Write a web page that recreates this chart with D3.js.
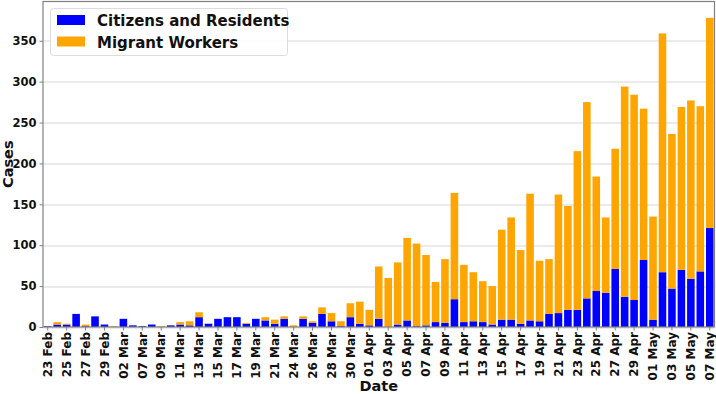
<!DOCTYPE html>
<html>
<head>
<meta charset="utf-8">
<script src="https://cdn.jsdelivr.net/npm/d3@7"></script>
<style>
  body { margin: 0; background: #fff; }
  svg { font-family: "DejaVu Sans", sans-serif; font-weight: bold; }
</style>
</head>
<body>
<svg width="716" height="394"></svg>
<script>
const dates = [
  '23 Feb', '24 Feb', '25 Feb', '26 Feb', '27 Feb', '28 Feb', '29 Feb', '01 Mar', '02 Mar', '05 Mar',
  '07 Mar', '08 Mar', '09 Mar', '10 Mar', '11 Mar', '12 Mar', '13 Mar', '14 Mar', '15 Mar', '16 Mar',
  '17 Mar', '18 Mar', '19 Mar', '20 Mar', '21 Mar', '22 Mar', '24 Mar', '25 Mar', '26 Mar', '27 Mar',
  '28 Mar', '29 Mar', '30 Mar', '31 Mar', '01 Apr', '02 Apr', '03 Apr', '04 Apr', '05 Apr', '06 Apr',
  '07 Apr', '08 Apr', '09 Apr', '10 Apr', '11 Apr', '12 Apr', '13 Apr', '14 Apr', '15 Apr', '16 Apr',
  '17 Apr', '18 Apr', '19 Apr', '20 Apr', '21 Apr', '22 Apr', '23 Apr', '24 Apr', '25 Apr', '26 Apr',
  '27 Apr', '28 Apr', '29 Apr', '30 Apr', '01 May', '02 May', '03 May', '04 May', '05 May', '06 May',
  '07 May'
];

// Citizens and Residents
const residents = [
  1, 3, 3, 16, 1, 13, 3, 0, 10, 2,
  1, 3, 0, 2, 3, 2, 12, 4, 10, 12,
  12, 4, 10, 8, 4, 10, 0, 10, 5, 16,
  7, 1, 12, 4, 2, 10, 0, 3, 8, 1,
  2, 6, 5, 34, 6, 7, 6, 3, 9, 9,
  4, 8, 7, 16, 17, 21, 21, 35, 44, 42,
  71, 37, 33, 82, 9, 67, 47, 70, 59, 68,
  121
];

// Migrant Workers
const migrants = [
  0, 3, 1, 0, 2, 0, 0, 1, 0, 0,
  0, 0, 1, 0, 3, 5, 6, 0, 0, 0,
  0, 1, 0, 4, 5, 3, 2, 3, 2, 8,
  10, 6, 17, 27, 19, 64, 60, 76, 101, 101,
  86, 49, 78, 130, 70, 60, 50, 47, 110, 125,
  90, 155, 74, 67, 145, 127, 194, 240, 140, 92,
  147, 257, 251, 185, 126, 292, 189, 199, 218, 202,
  257
];

const seriesNames = ['Citizens and Residents', 'Migrant Workers'];
const seriesColors = ['#0000ff', '#ffa500'];
const yTicks = [0, 50, 100, 150, 200, 250, 300, 350];

const svg = d3.select('svg');
const margin = { top: 1.5, right: 1.5, bottom: 67, left: 43 };
const width = 716 - margin.left - margin.right;
const height = 394 - margin.top - margin.bottom;

const g = svg.append('g').attr('transform', `translate(${margin.left},${margin.top})`);

const x = d3.scaleBand().domain(dates).range([0, width]).paddingInner(0.2).paddingOuter(0.1);
const y = d3.scaleLinear().domain([0, 398]).range([height, 0]);

const table = dates.map((d, i) => ({ date: d, res: residents[i], mig: migrants[i] }));
const stacked = d3.stack().keys(['res', 'mig'])(table);

// gridlines
g.append('g')
  .selectAll('line')
  .data(yTicks)
  .join('line')
  .attr('x1', 0).attr('x2', width)
  .attr('y1', d => Math.round(y(d)) + 0.5).attr('y2', d => Math.round(y(d)) + 0.5)
  .attr('stroke', '#d6d6d6')
  .attr('stroke-width', 1);

// bars
g.append('g')
  .selectAll('g')
  .data(stacked)
  .join('g')
  .attr('fill', (_, i) => seriesColors[i])
  .selectAll('rect')
  .data(d => d)
  .join('rect')
  .attr('x', d => x(d.data.date))
  .attr('width', x.bandwidth())
  .attr('y', d => y(d[1]))
  .attr('height', d => y(d[0]) - y(d[1]));

// frame
g.append('rect')
  .attr('x', 0).attr('y', 0)
  .attr('width', width).attr('height', height)
  .attr('fill', 'none')
  .attr('stroke', '#808080')
  .attr('stroke-width', 1.2);

// y axis
const yAxis = g.append('g')
  .call(d3.axisLeft(y).tickValues(yTicks).tickSize(3.5).tickPadding(3))
  .call(s => s.select('.domain').remove());
yAxis.selectAll('line').attr('stroke', '#808080');
yAxis.selectAll('text')
  .attr('font-family', 'DejaVu Sans')
  .attr('font-weight', 'bold')
  .attr('font-size', 11.5)
  .attr('fill', '#111');

// x axis, every other label
const xAxis = g.append('g')
  .attr('transform', `translate(0,${height})`)
  .call(d3.axisBottom(x).tickValues(dates.filter((_, i) => i % 2 === 0)).tickSize(3.5).tickPadding(3))
  .call(s => s.select('.domain').remove());
xAxis.selectAll('line').attr('stroke', '#808080');
xAxis.selectAll('text')
  .attr('font-family', 'DejaVu Sans')
  .attr('font-weight', 'bold')
  .attr('font-size', 12)
  .attr('fill', '#111')
  .attr('text-anchor', 'end')
  .attr('transform', 'rotate(-90)')
  .attr('x', -5)
  .attr('y', 0)
  .attr('dy', '0.35em');

// axis titles
svg.append('text')
  .attr('x', margin.left + width / 2)
  .attr('y', 391)
  .attr('text-anchor', 'middle')
  .attr('font-size', 14.5)
  .attr('fill', '#111')
  .text('Date');

svg.append('text')
  .attr('transform', `translate(13,${margin.top + height / 2}) rotate(-90)`)
  .attr('text-anchor', 'middle')
  .attr('font-size', 14.5)
  .attr('fill', '#111')
  .text('Cases');

// legend
const legend = svg.append('g').attr('transform', 'translate(50.5,8.5)');
legend.append('rect')
  .attr('width', 237).attr('height', 47).attr('rx', 3)
  .attr('fill', 'white').attr('fill-opacity', 0.85)
  .attr('stroke', '#dcdcdc');
const items = legend.selectAll('g.item')
  .data(seriesNames)
  .join('g')
  .attr('class', 'item')
  .attr('transform', (_, i) => `translate(6.5,${6.5 + i * 21.5})`);
items.append('rect')
  .attr('width', 28).attr('height', 10)
  .attr('fill', (_, i) => seriesColors[i]);
items.append('text')
  .attr('x', 40).attr('y', 11)
  .attr('font-size', 15)
  .attr('fill', '#111')
  .text(d => d);
</script>
</body>
</html>
